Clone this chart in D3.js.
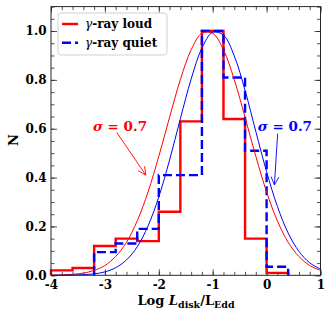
<!DOCTYPE html>
<html>
<head>
<meta charset="utf-8">
<script src="https://cdn.jsdelivr.net/npm/d3@7"></script>
<style>
  html, body { margin: 0; padding: 0; background: #fff; }
  svg { display: block; font-family: "DejaVu Serif", serif; font-weight: bold; }
</style>
</head>
<body>
<div id="chart"></div>
<script>
// histogram bins (normalised counts)
const binEdges = [-4, -3.6, -3.2, -2.8, -2.4, -2.0, -1.6, -1.2, -0.8, -0.4, 0, 0.4];
const loudCounts = [0.02, 0.03, 0.12, 0.15, 0.14, 0.26, 0.63, 1.0, 0.64, 0.15, 0.01];
const quietCounts = [null, null, 0.095, 0.13, 0.19, 0.41, 0.41, 1.0, 0.81, 0.51, 0.035];

// fitted gaussian curves
const curveX = [-4, -3.8, -3.6, -3.4, -3.2, -3, -2.8, -2.6, -2.4, -2.2, -2, -1.8, -1.6,
  -1.4, -1.2, -1, -0.8, -0.6, -0.4, -0.2, 0, 0.2, 0.4, 0.6, 0.8, 1];
const loudFit = [0.001, 0.002, 0.004, 0.009, 0.02, 0.04, 0.077, 0.135, 0.223, 0.341, 0.487,
  0.647, 0.801, 0.923, 0.991, 0.991, 0.923, 0.801, 0.647, 0.487, 0.341, 0.223, 0.135,
  0.077, 0.04, 0.02];
const quietFit = [0.0001, 0.0003, 0.0009, 0.0024, 0.006, 0.014, 0.031, 0.063, 0.117, 0.202,
  0.321, 0.472, 0.641, 0.803, 0.93, 0.995, 0.983, 0.898, 0.757, 0.589, 0.424, 0.282,
  0.173, 0.098, 0.051, 0.025];

const xTicks = [-4, -3, -2, -1, 0, 1];
const yTicks = [0, 0.2, 0.4, 0.6, 0.8, 1.0];
const legendLabels = ["-ray loud", "-ray quiet"];
// sigma annotations: text at (tx,ty), arrow from (ax0,ay0) to (ax1,ay1), data coords
const notes = [
  { text: "0.7", tx: -2.72, ty: 0.61, ax0: -2.78, ay0: 0.585, ax1: -2.24, ay1: 0.41 },
  { text: "0.7", tx: 0.34, ty: 0.61, ax0: 0.205, ay0: 0.58, ax1: 0.145, ay1: 0.37 }
];

const W = 331, H = 320;
const red = "#ff0000", blue = "#0000ff", frame = "#262626";

const x = d3.scaleLinear().domain([-4, 1]).range([51, 320.5]);
const y = d3.scaleLinear().domain([0, 1.1]).range([275.3, 6.6]);

const svg = d3.select("#chart").append("svg")
  .attr("width", W).attr("height", H);

// ticks on all four sides, pointing in
const xMinor = d3.range(-4, 1.001, 0.2);
const yMinor = d3.range(0, 1.1001, 0.05);
function axes(axisFn, scale, tr, len, labels, vals) {
  const g = svg.append("g").attr("transform", tr)
    .call(axisFn(scale).tickValues(vals).tickSize(len).tickSizeOuter(0)
      .tickFormat(labels ? (d => labels(d)) : () => ""));
  g.select(".domain").remove();
  g.selectAll(".tick line").attr("stroke", frame).attr("stroke-width", 0.8);
  return g;
}
const fmtX = d => d3.format("d")(d).replace("−", "-");
const fmtY = d => d3.format(".1f")(d);
axes(d3.axisBottom, x, `translate(0,${y(0)})`, -3.5, null, xMinor);
axes(d3.axisTop, x, `translate(0,${y(1.1)})`, -3.5, null, xMinor);
axes(d3.axisLeft, y, `translate(${x(-4)},0)`, -3.5, null, yMinor);
axes(d3.axisRight, y, `translate(${x(1)},0)`, -3.5, null, yMinor);
const bx = axes(d3.axisBottom, x, `translate(0,${y(0)})`, -6, fmtX, xTicks);
axes(d3.axisTop, x, `translate(0,${y(1.1)})`, -6, null, xTicks);
const ly = axes(d3.axisLeft, y, `translate(${x(-4)},0)`, -6, fmtY, yTicks);
axes(d3.axisRight, y, `translate(${x(1)},0)`, -6, null, yTicks);
bx.selectAll("text").attr("y", 5).attr("fill", "#000")
  .style("font-size", "12px").style("font-family", "DejaVu Serif").style("font-weight", "bold");
ly.selectAll("text").attr("x", -4.5).attr("fill", "#000")
  .style("font-size", "12px").style("font-family", "DejaVu Serif").style("font-weight", "bold");

// step histograms
function stepPoints(counts) {
  const pts = [];
  let first = counts.findIndex(v => v != null);
  pts.push([binEdges[first], 0]);
  for (let i = first; i < counts.length; i++) pts.push([binEdges[i], counts[i]]);
  pts.push([binEdges[counts.length], counts[counts.length - 1]]);
  pts.push([binEdges[counts.length], 0]);
  return pts;
}
const stepLine = d3.line().x(d => x(d[0])).y(d => y(d[1])).curve(d3.curveStepAfter);

svg.append("path").attr("d", stepLine(stepPoints(loudCounts)))
  .attr("fill", "none").attr("stroke", red).attr("stroke-width", 2.4);
svg.append("path").attr("d", stepLine(stepPoints(quietCounts)))
  .attr("fill", "none").attr("stroke", blue).attr("stroke-width", 2.4)
  .attr("stroke-dasharray", "9,4");

// gaussian fits
const fitLine = d3.line().x((d, i) => x(curveX[i])).y(d => y(d)).curve(d3.curveCatmullRom);
svg.append("path").attr("d", fitLine(loudFit))
  .attr("fill", "none").attr("stroke", red).attr("stroke-width", 1);
svg.append("path").attr("d", fitLine(quietFit))
  .attr("fill", "none").attr("stroke", blue).attr("stroke-width", 1);

// frame
svg.append("rect").attr("x", x(-4)).attr("y", y(1.1))
  .attr("width", x(1) - x(-4)).attr("height", y(0) - y(1.1))
  .attr("fill", "none").attr("stroke", frame).attr("stroke-width", 1);

// annotations
notes.forEach((n, i) => {
  const c = i === 0 ? red : blue;
  const t = svg.append("text").attr("x", x(n.tx)).attr("y", y(n.ty) + 5)
    .attr("text-anchor", "middle").attr("fill", c).style("font-size", "13.5px");
  t.append("tspan").style("font-style", "italic").text("σ");
  t.append("tspan").text(" = " + n.text);
  const x0 = x(n.ax0), y0 = y(n.ay0), x1 = x(n.ax1), y1 = y(n.ay1);
  svg.append("line").attr("x1", x0).attr("y1", y0).attr("x2", x1).attr("y2", y1)
    .attr("stroke", c).attr("stroke-width", 0.9);
  const a = Math.atan2(y1 - y0, x1 - x0), L = 9, s = 0.45;
  svg.append("path")
    .attr("d", `M${x1 - L * Math.cos(a - s)},${y1 - L * Math.sin(a - s)}L${x1},${y1}L${x1 - L * Math.cos(a + s)},${y1 - L * Math.sin(a + s)}`)
    .attr("fill", "none").attr("stroke", c).attr("stroke-width", 0.9);
});

// legend
const lg = svg.append("g");
lg.append("rect").attr("x", 58).attr("y", 13).attr("width", 109).attr("height", 42)
  .attr("rx", 3).attr("fill", "#fff").attr("fill-opacity", 0.85)
  .attr("stroke", "#cccccc").attr("stroke-width", 0.9);
[red, blue].forEach((c, i) => {
  const yy = 24 + i * 18.7;
  lg.append("line").attr("x1", 62).attr("x2", 78).attr("y1", yy).attr("y2", yy)
    .attr("stroke", c).attr("stroke-width", 2.4).attr("stroke-dasharray", i ? "9,4" : null);
  const t = lg.append("text").attr("x", 85).attr("y", yy + 4.3)
    .attr("fill", "#000").style("font-size", "12px");
  t.append("tspan").style("font-style", "italic").style("font-weight", "normal").text("γ");
  t.append("tspan").text(legendLabels[i]);
});

// axis titles
const xt = svg.append("text").attr("x", 186).attr("y", 305).attr("text-anchor", "middle")
  .attr("fill", "#000").style("font-size", "13px");
xt.append("tspan").text("Log ");
xt.append("tspan").style("font-style", "italic").text("L");
xt.append("tspan").attr("dy", 3).style("font-size", "9.5px").text("disk");
xt.append("tspan").attr("dy", -3).text("/L");
xt.append("tspan").attr("dy", 3).style("font-size", "9.5px").text("Edd");

svg.append("text").attr("transform", "translate(17.5,140) rotate(-90)")
  .attr("text-anchor", "middle").attr("fill", "#000").style("font-size", "13px").text("N");
</script>
</body>
</html>
